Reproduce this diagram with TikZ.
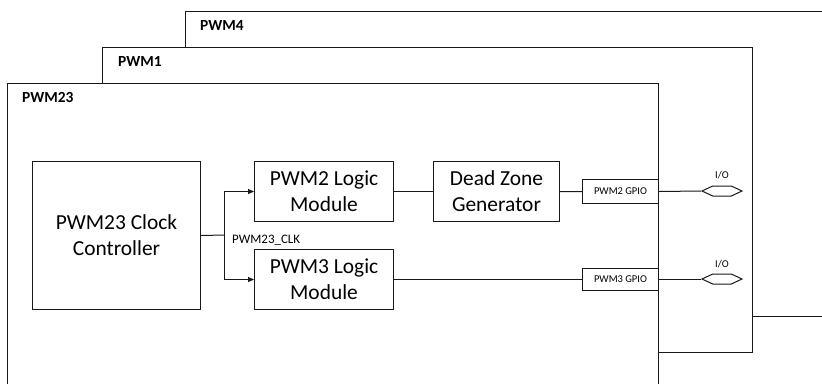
\documentclass[tikz,border=0pt]{standalone}
\usepackage{fontspec}
\setmainfont{Carlito}
\usetikzlibrary{shapes.symbols,arrows.meta}
\begin{document}
\begin{tikzpicture}[x=1bp,y=-1bp,
  frame/.style={draw=black!90, fill=white, line width=1bp, anchor=north west, inner sep=0},
  ttl/.style={font=\fontsize{15.5}{18}\selectfont\bfseries, anchor=base west, inner sep=0},
  block/.style={draw=black!90, fill=white, line width=1bp, align=center, inner sep=0, anchor=north west,
    font=\fontsize{21.5}{26}\selectfont},
  gpio/.style={draw=black!90, fill=white, line width=1bp, inner sep=0, anchor=north west,
    font=\fontsize{10.5}{12}\selectfont},
  iopin/.style={draw=black!90, line width=1bp, shape=signal, signal to=east and west,
    signal pointer angle=50, minimum width=40bp, minimum height=10bp, inner sep=0},
  small/.style={font=\fontsize{10.5}{12}\selectfont, inner sep=0},
  wire/.style={draw=black!90, line width=1bp},
  arr/.style={wire, -{Triangle[length=6bp,width=5bp]}}
]
\useasboundingbox (0,0) rectangle (822,383);
\fill[white] (0,0) rectangle (822,383);

% stacked frames
\node[frame, minimum width=700bp, minimum height=305bp] (pwmfour) at (185,11) {};
\node[ttl] (tfour) at (200,30) {PWM4};
\node[frame, minimum width=650bp, minimum height=305bp] (pwmone) at (102,47) {};
\node[ttl] (tone) at (118,66) {PWM1};
\node[frame, minimum width=651bp, minimum height=330bp] (pwmtt) at (7,83) {};
\node[ttl] (ttt) at (22,102) {PWM23};

% blocks
\node[block, minimum width=168bp, minimum height=148bp] (clk) at (32,161) {PWM23 Clock\\Controller};
\node[block, minimum width=139bp, minimum height=60bp] (lg2) at (254,161) {PWM2 Logic\\Module};
\node[block, minimum width=139bp, minimum height=60bp] (lg3) at (254,249) {PWM3 Logic\\Module};
\node[block, minimum width=126bp, minimum height=60bp] (dz) at (433,161) {Dead Zone\\Generator};
\node[gpio, minimum width=76bp, minimum height=24bp] (g2) at (582,179) {PWM2 GPIO};
\node[gpio, minimum width=76bp, minimum height=22bp] (g3) at (582,268) {PWM3 GPIO};

\node[iopin] (io2) at (722,191) {};
\node[iopin] (io3) at (722,279) {};
\node[small, anchor=base] (lio2) at (722,178) {I/O};
\node[small, anchor=base] (lio3) at (722,267) {I/O};

% clock distribution
\coordinate (j) at (224,235);
\draw[wire] (clk.east) -- (j);
\draw[arr] (j) |- (lg2.west);
\draw[arr] (j) |- (lg3.west);
\node[font=\fontsize{13}{15}\selectfont, inner sep=0, anchor=base west] (clklbl) at (232,243) {PWM23\_CLK};

% data path
\draw[wire] (lg2.east) -- (dz.west);
\draw[wire] (dz.east) -- (g2.west);
\draw[wire] (g2.east) -- (io2.west);
\draw[wire] (lg3.east) -- (g3.west |- lg3.east);
\draw[wire] (g3.east |- io3.west) -- (io3.west);
\end{tikzpicture}
\end{document}
